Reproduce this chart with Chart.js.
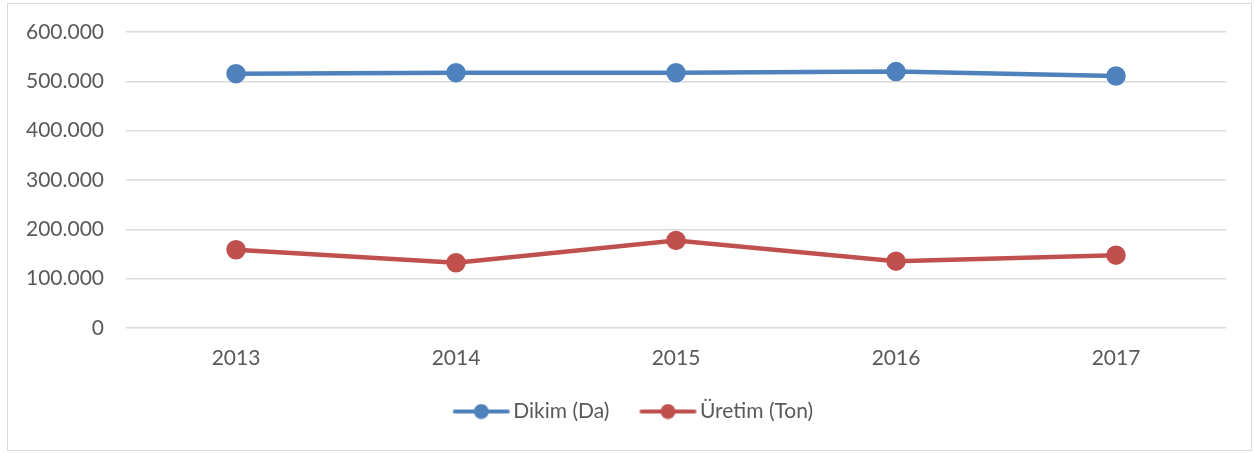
<!DOCTYPE html>
<html>
<head>
<meta charset="utf-8">
<script src="https://cdn.jsdelivr.net/npm/chart.js@4"></script>
<style>
  html, body { margin: 0; padding: 0; background: #fff; }
  .box {
    position: absolute; left: 7px; top: 3px;
    width: 1243px; height: 446px;
    border: 1px solid #d9d9d9;
  }
</style>
</head>
<body>
<div class="box"><canvas id="myChart" width="1243" height="446"></canvas></div>
<script>
const years = ['2013', '2014', '2015', '2016', '2017'];
const dikim = [515600, 517600, 517400, 519700, 510800];
const uretim = [158600, 132300, 177500, 135500, 147700];
const yTicks = [0, 100000, 200000, 300000, 400000, 500000, 600000];

const blue = '#4f81bd';
const red = '#c0504d';

// legend marker: short line with a dot, shifted right inside its canvas
function legendMark(color) {
  const c = document.createElement('canvas');
  c.width = 66; c.height = 16;
  const g = c.getContext('2d');
  g.strokeStyle = color;
  g.lineWidth = 4;
  g.lineCap = 'round';
  g.beginPath();
  g.moveTo(10, 8); g.lineTo(63, 8);
  g.stroke();
  g.fillStyle = color;
  g.beginPath();
  g.arc(36.5, 8, 7.5, 0, Math.PI * 2);
  g.fill();
  return c;
}

const fmt = v => v === 0 ? '0' : v.toLocaleString('de-DE');

// legend centring ignores the trailing padding, nudge it back
const legendNudge = {
  id: 'legendNudge',
  afterLayout(chart) {
    chart.legend.left += 16;
    chart.legend.right += 16;
  }
};

Chart.defaults.font.family = 'Lato, "Open Sans", sans-serif';
Chart.defaults.color = '#595959';

new Chart(document.getElementById('myChart'), {
  type: 'line',
  data: {
    labels: years,
    datasets: [{
      label: 'Dikim (Da)',
      data: dikim,
      borderColor: blue,
      backgroundColor: blue,
      borderWidth: 4.5,
      pointRadius: 7.5,
      pointHoverRadius: 7.5,
      pointStyle: 'circle',
      tension: 0
    },
    {
      label: 'Üretim (Ton)',
      data: uretim,
      borderColor: red,
      backgroundColor: red,
      borderWidth: 4.5,
      pointRadius: 7.5,
      pointHoverRadius: 7.5,
      pointStyle: 'circle',
      tension: 0
    }]
  },
  plugins: [legendNudge],
  options: {
    responsive: false,
    animation: false,
    layout: {
      padding: { top: 28, right: 25, left: 0, bottom: 18 }
    },
    plugins: {
      tooltip: { enabled: false },
      legend: {
        position: 'bottom',
        labels: {
          usePointStyle: true,
          pointStyleWidth: 50,
          font: { size: 21 },
          color: '#595959',
          padding: 30,
          generateLabels: (chart) => chart.data.datasets.map((ds, i) => ({
            text: ds.label,
            pointStyle: legendMark(ds.borderColor),
            fillStyle: ds.borderColor,
            strokeStyle: ds.borderColor,
            lineWidth: 0,
            hidden: false,
            datasetIndex: i,
            fontColor: '#595959'
          }))
        }
      }
    },
    scales: {
      x: {
        offset: true,
        grid: { display: false, drawTicks: false },
        border: { display: false },
        ticks: { font: { size: 21 }, padding: 18 },
        afterFit: (s) => { s.height = 43; }
      },
      y: {
        min: 0,
        max: 600000,
        afterBuildTicks: (s) => { s.ticks = yTicks.map(v => ({ value: v })); },
        grid: { color: '#d9d9d9', lineWidth: 1.5, drawTicks: false },
        border: { display: false },
        ticks: {
          font: { size: 21 },
          padding: 22,
          callback: (v) => fmt(v)
        },
        afterFit: (s) => { s.width = 118; s.paddingTop = 0; }
      }
    }
  }
});
</script>
</body>
</html>
